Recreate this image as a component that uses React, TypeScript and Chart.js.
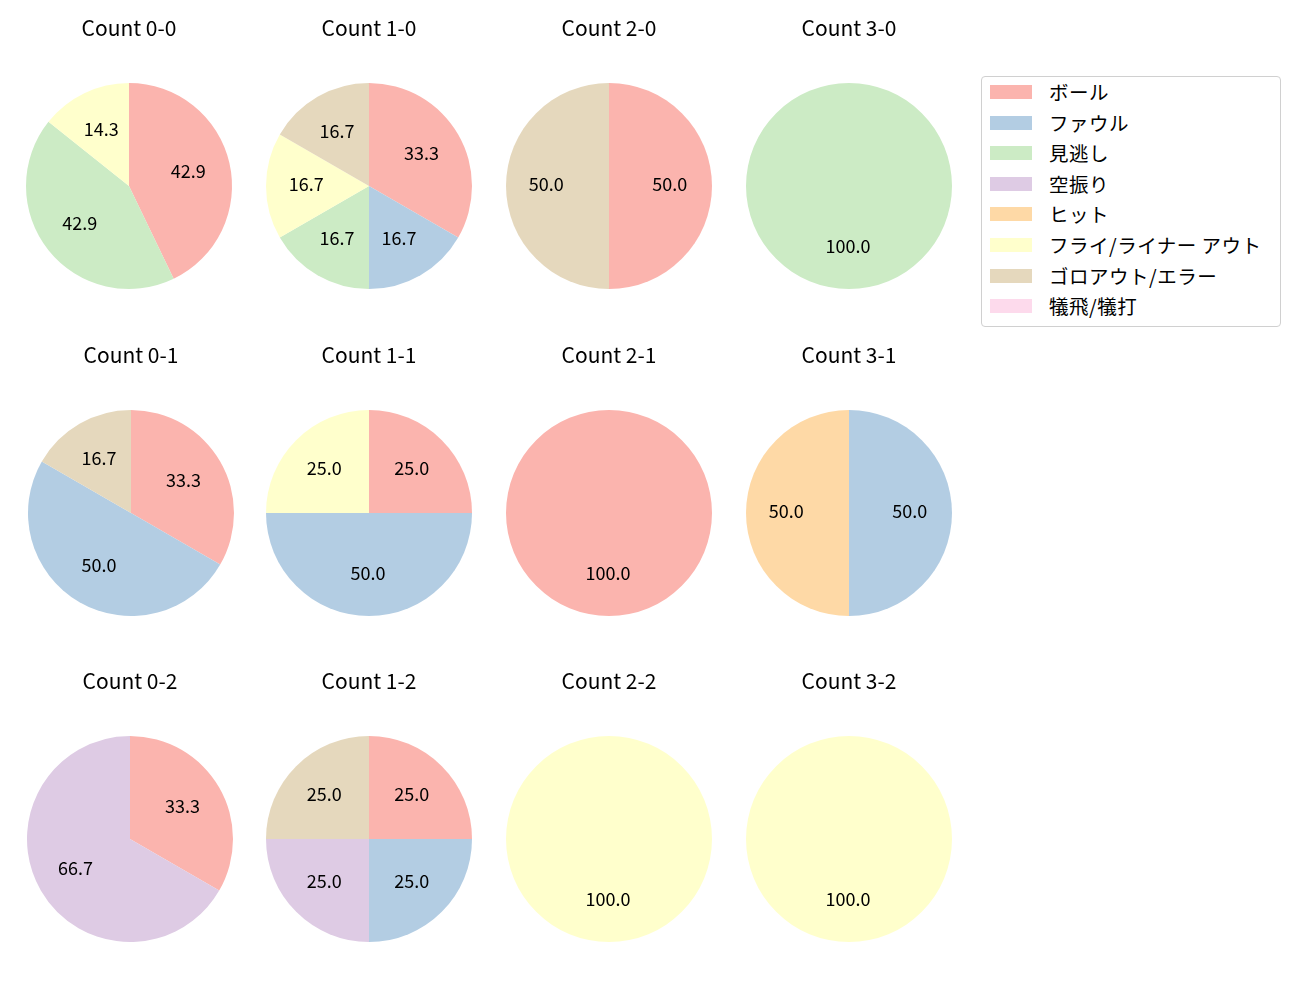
import React, { useEffect, useRef } from "react";
import { Chart, registerables } from "chart.js";

Chart.register(...registerables);

const categories = ["ボール", "ファウル", "見逃し", "空振り", "ヒット", "フライ/ライナー アウト", "ゴロアウト/エラー", "犠飛/犠打"];
const colors = ["#fbb4ae", "#b3cde3", "#ccebc5", "#decbe4", "#fed9a6", "#ffffcc", "#e5d8bd", "#fddaec"];

const countTitles = [
  "Count 0-0", "Count 1-0", "Count 2-0", "Count 3-0",
  "Count 0-1", "Count 1-1", "Count 2-1", "Count 3-1",
  "Count 0-2", "Count 1-2", "Count 2-2", "Count 3-2",
];

const count00 = [3, 0, 3, 0, 0, 1, 0, 0];
const count10 = [2, 1, 1, 0, 0, 1, 1, 0];
const count20 = [1, 0, 0, 0, 0, 0, 1, 0];
const count30 = [0, 0, 1, 0, 0, 0, 0, 0];
const count01 = [2, 3, 0, 0, 0, 0, 1, 0];
const count11 = [1, 2, 0, 0, 0, 1, 0, 0];
const count21 = [1, 0, 0, 0, 0, 0, 0, 0];
const count31 = [0, 1, 0, 0, 1, 0, 0, 0];
const count02 = [1, 0, 0, 2, 0, 0, 0, 0];
const count12 = [1, 1, 0, 1, 0, 0, 1, 0];
const count22 = [0, 0, 0, 0, 0, 1, 0, 0];
const count32 = [0, 0, 0, 0, 0, 1, 0, 0];

const countValues = [count00, count10, count20, count30, count01, count11, count21, count31, count02, count12, count22, count32];

// layout
const colX = [128.5, 369, 608.5, 848.5];
const rowY = [185.5, 512.5, 838.5];
const col0X = [128.5, 131, 129.5];
const R = 103;
const W = 240;
const H = 320;
const ABOVE = 180;
const FONT = "'Noto Sans CJK JP', 'Noto Sans', sans-serif";

const labelPlugin = {
  id: "pctLabels",
  afterDatasetsDraw(chart: any, _args: any, opts: any) {
    const ctx = chart.ctx;
    const meta = chart.getDatasetMeta(0);
    const data = chart.data.datasets[0].data as number[];
    const total = data.reduce((a: number, b: number) => a + b, 0);
    ctx.save();
    ctx.font = `18px ${FONT}`;
    ctx.fillStyle = "#000";
    ctx.textAlign = "center";
    ctx.textBaseline = "middle";
    meta.data.forEach((arc: any, i: number) => {
      const v = data[i];
      if (!v) return;
      const p = arc.getProps(["x", "y", "startAngle", "endAngle", "outerRadius"], true);
      const mid = (p.startAngle + p.endAngle) / 2;
      const r = p.outerRadius * 0.6;
      ctx.fillText(((v / total) * 100).toFixed(1), p.x + Math.cos(mid) * r - 1, p.y + Math.sin(mid) * r - 1.5);
    });
    // title
    ctx.font = `21px ${FONT}`;
    ctx.fillText(opts.text, chart.width / 2, ABOVE - 157.5);
    ctx.restore();
  },
};

function PieCell({ idx }: { idx: number }) {
  const ref = useRef<HTMLCanvasElement>(null);
  const col = idx % 4;
  const row = Math.floor(idx / 4);
  const cx = col === 0 ? col0X[row] : colX[col];
  const cy = rowY[row];
  useEffect(() => {
    if (!ref.current) return;
    const chart = new Chart(ref.current, {
      type: "pie",
      data: {
        labels: categories,
        datasets: [
          {
            data: countValues[idx],
            backgroundColor: colors,
            borderWidth: 0,
          },
        ],
      },
      options: {
        responsive: false,
        animation: false,
        layout: {
          padding: { left: W / 2 - R, right: W / 2 - R, top: ABOVE - R, bottom: H - ABOVE - R },
        },
        plugins: {
          legend: { display: false },
          tooltip: { enabled: false },
          pctLabels: { text: countTitles[idx] },
        } as any,
      },
      plugins: [labelPlugin],
    });
    return () => chart.destroy();
  }, [idx]);
  return (
    <canvas
      ref={ref}
      width={W}
      height={H}
      style={{ position: "absolute", left: cx - W / 2, top: cy - ABOVE, width: W, height: H }}
    />
  );
}

function Legend() {
  return (
    <div
      style={{
        position: "absolute",
        left: 981,
        top: 76,
        width: 298,
        height: 249,
        border: "1px solid #d0d0d0",
        borderRadius: 4,
        background: "#fff",
        fontFamily: FONT,
        fontSize: "19.5px",
        color: "#000",
      }}
    >
      {categories.map((c, i) => (
        <div
          key={c}
          style={{ position: "absolute", left: 0, top: 7 + i * 30.6, height: 16, display: "flex", alignItems: "center", whiteSpace: "nowrap" }}
        >
          <div style={{ marginLeft: 8, width: 42, height: 14, background: colors[i] }} />
          <span style={{ marginLeft: 17, lineHeight: "16px", letterSpacing: "0.5px" }}>{c}</span>
        </div>
      ))}
    </div>
  );
}

export default function App() {
  return (
    <div style={{ position: "fixed", left: 0, top: 0, width: 1300, height: 1000, background: "#fff" }}>
      {countTitles.map((_, i) => (
        <PieCell key={i} idx={i} />
      ))}
      <Legend />
    </div>
  );
}
